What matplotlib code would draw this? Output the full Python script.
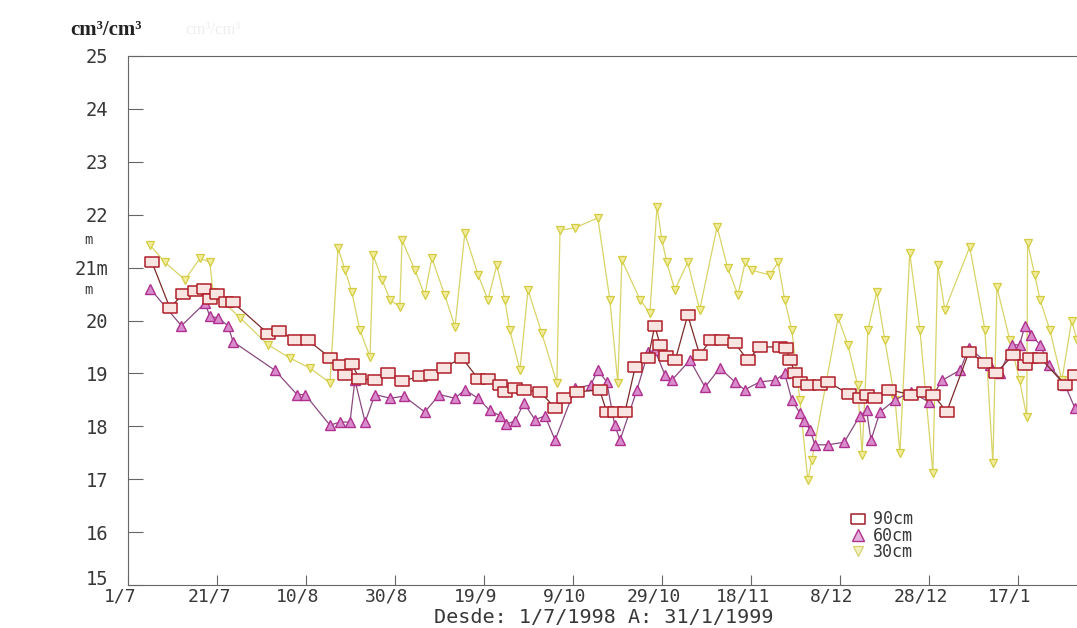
import matplotlib
matplotlib.use("Agg")
import matplotlib.pyplot as plt
from matplotlib.lines import Line2D
from matplotlib.transforms import ScaledTranslation

# days counted from 1/7/1998, soil moisture in cm3/cm3 (x100)
days90 = [5.4, 9.4, 12.4, 15, 17, 18.4, 20, 22, 23.5, 31.5, 34, 37.5, 40.4, 45.4, 47.6, 48.8, 50.3, 52, 55.5,
          58.4, 61.6, 65.6, 68, 71, 75, 78.7, 81, 83.6, 84.7, 87, 89, 92.6, 96, 98, 101, 106, 107.6, 109.4, 111.7,
          114, 116.9, 118.4, 119.6, 121, 123, 125.8, 128.5, 131, 133.5, 136.4, 139.3, 142, 146.5, 148, 148.8, 150,
          151, 152.8, 155.5, 157.3, 162, 164.5, 166, 168, 171, 176, 179, 181, 184, 189, 192.6, 195, 199, 201.6,
          202.7, 205, 210.6, 212.8]
vals90 = [21.1, 20.24, 20.5, 20.55, 20.6, 20.4, 20.5, 20.35, 20.35, 19.75, 19.8, 19.63, 19.63, 19.3, 19.16, 18.97,
          19.18, 18.9, 18.87, 19.0, 18.85, 18.95, 18.97, 19.1, 19.3, 18.9, 18.9, 18.78, 18.65, 18.72, 18.69, 18.65,
          18.35, 18.53, 18.65, 18.69, 18.27, 18.27, 18.27, 19.12, 19.29, 19.9, 19.54, 19.33, 19.25, 20.1, 19.35,
          19.63, 19.63, 19.57, 19.25, 19.5, 19.5, 19.48, 19.25, 19.0, 18.84, 18.78, 18.78, 18.84, 18.61, 18.53, 18.6,
          18.53, 18.69, 18.6, 18.65, 18.6, 18.27, 19.4, 19.2, 19.0, 19.35, 19.16, 19.3, 19.3, 18.78, 18.97]

days60 = [5, 12, 17.3, 18.4, 20.2, 22.5, 23.6, 33, 38, 39.8, 45.4, 47.6, 49.9, 51, 53.3, 55.5, 59, 62, 66.7, 70,
          73.5, 75.7, 78.7, 81.3, 83.6, 85, 87, 89, 91.5, 93.7, 96, 100.5, 104, 105.6, 107.6, 109.4, 110.6, 114.4,
          116.9, 118.4, 120.7, 122.2, 126.3, 129.7, 133, 136.4, 138.6, 142, 145.4, 147.6, 149.2, 151, 152, 153.3,
          154.4, 157.3, 161, 164.5, 166, 167, 169, 172.4, 176, 180, 183, 187, 189, 193.7, 196, 198.7, 200.4, 201.6,
          203, 205, 207, 210.6, 212.8]
vals60 = [20.6, 19.9, 20.33, 20.08, 20.05, 19.9, 19.6, 19.06, 18.6, 18.6, 18.02, 18.08, 18.08, 18.87, 18.08, 18.6,
          18.53, 18.57, 18.27, 18.6, 18.53, 18.69, 18.53, 18.3, 18.2, 18.04, 18.1, 18.44, 18.12, 18.2, 17.74, 18.72,
          18.78, 19.06, 18.84, 18.02, 17.74, 18.69, 19.4, 19.44, 18.97, 18.87, 19.25, 18.74, 19.1, 18.84, 18.69,
          18.84, 18.87, 19.0, 18.5, 18.25, 18.1, 17.93, 17.65, 17.65, 17.7, 18.2, 18.3, 17.74, 18.27, 18.5, 18.65,
          18.46, 18.87, 19.06, 19.48, 19.16, 19.0, 19.54, 19.54, 19.9, 19.73, 19.54, 19.16, 18.78, 18.35]

days30 = [4.9, 8.3, 12.8, 16.2, 18.4, 19.1, 25.2, 31.5, 36.4, 40.9, 45.4, 47.2, 48.8, 50.3, 52.1, 54.4, 55.1, 57.1,
          58.9, 61.1, 61.6, 64.5, 66.7, 68.3, 71.2, 73.5, 75.7, 78.7, 80.9, 82.9, 84.7, 85.8, 88.1, 89.9, 93.0, 96.4,
          97.1, 100.4, 105.6, 108.3, 110.1, 111.0, 115.1, 117.3, 118.9, 120.0, 121.1, 122.9, 125.8, 128.5, 132.4,
          134.8, 137.1, 138.7, 140.2, 144.3, 146.1, 147.6, 149.2, 151.0, 152.8, 153.7, 159.6, 161.8, 164.0, 165.0,
          166.3, 168.3, 170.1, 172.4, 173.5, 175.7, 178.0, 180.9, 182.0, 183.6, 189.2, 192.6, 194.4, 195.3, 198.2,
          200.4, 202.0, 202.2, 203.8, 205.0, 207.2, 209.9, 212.1, 213.3]
vals30 = [21.43, 21.1, 20.77, 21.18, 21.1, 20.54, 20.05, 19.54, 19.29, 19.1, 18.82, 21.37, 20.95, 20.54, 19.82,
          19.31, 21.24, 20.77, 20.39, 20.26, 21.52, 20.95, 20.48, 21.18, 20.48, 19.88, 21.65, 20.86, 20.39, 21.05,
          20.39, 19.82, 19.06, 20.58, 19.76, 18.82, 21.71, 21.75, 21.94, 20.39, 18.82, 21.14, 20.39, 20.14, 22.15,
          21.52, 21.1, 20.58, 21.1, 20.2, 21.77, 20.99, 20.48, 21.1, 20.95, 20.86, 21.1, 20.39, 19.82, 18.5, 16.98,
          17.36, 20.05, 19.54, 18.78, 17.46, 19.82, 20.54, 19.63, 18.5, 17.5, 21.28, 19.82, 17.12, 21.05, 20.2,
          21.39, 19.82, 17.3, 20.63, 19.63, 18.87, 18.18, 21.47, 20.86, 20.39, 19.82, 18.87, 20.0, 19.63]

xtick_days = [0, 20, 40, 60, 80, 100, 120, 140, 160, 180, 200]
xtick_labels = ['1/7', '21/7', '10/8', '30/8', '19/9', '9/10', '29/10', '18/11', '8/12', '28/12', '17/1']
ytick_vals = [15, 16, 17, 18, 19, 20, 21, 22, 23, 24, 25]
ytick_labels = ['15', '16', '17', '18', '19', '20', '21m', '22', '23', '24', '25']
series_labels = ['90cm', '60cm', '30cm']

mono = 'DejaVu Sans Mono'
txt = '#383838'
rect = [(-1.4, -1), (1.4, -1), (1.4, 1), (-1.4, 1), (-1.4, -1)]

fig = plt.figure(figsize=(10.77, 6.28), dpi=100)
ax = fig.add_axes([128/1077, 43/628, 1 - 128/1077, (585-56)/628])

# 30cm behind, then 60cm, then 90cm on top
ax.plot(days30, vals30, color='#d8d468', lw=0.9, marker='v', ms=6, mfc='#f0ec9c', mec='#d4cc40', mew=0.9)
ax.plot(days60, vals60, color='#8a4a80', lw=0.9, marker='^', ms=7, mfc='#d88ccc', mec='#b0308f', mew=1.0)
ax.plot(days90, vals90, color='#7a2a2a', lw=0.9, marker=rect, ms=10, mfc='#f8e4e0', mec='#b01e2a', mew=1.1)

ax.set_xlim(0, 213.3)
ax.set_ylim(15, 25)
ax.set_xticks(xtick_days)
ax.set_xticklabels(xtick_labels, family=mono, fontsize=13, color=txt)
ax.set_yticks(ytick_vals)
ax.set_yticklabels(ytick_labels, family=mono, fontsize=13.5, color=txt)
ax.tick_params(axis='y', direction='in', length=11, width=0.8, color='#666666', pad=14)
ax.tick_params(axis='x', direction='in', length=7, width=0.8, color='#666666', pad=2)
ax.get_yticklabels()[0].set_va('baseline')

shift = ScaledTranslation(-8/100, 0, fig.dpi_scale_trans)
for lbl in ax.get_xticklabels():
    lbl.set_transform(lbl.get_transform() + shift)

for s in ['left', 'bottom', 'top']:
    ax.spines[s].set_color('#666666')
    ax.spines[s].set_linewidth(0.8)
ax.spines['right'].set_visible(False)

# legend, markers only
handles = [
    Line2D([], [], ls='none', marker=rect, ms=10, mfc='white', mec='#a01e2a', mew=1.1),
    Line2D([], [], ls='none', marker='^', ms=8, mfc='#e6b0dc', mec='#b0308f', mew=1.0),
    Line2D([], [], ls='none', marker='v', ms=7, mfc='#f4f0c0', mec='#d8d070', mew=0.9),
]
ax.legend(handles, series_labels, loc='upper left', bbox_to_anchor=(843/1077, 1 - 502/628),
          bbox_transform=fig.transFigure, frameon=False, prop={'family': mono, 'size': 12},
          labelspacing=-0.1, handlelength=0.8, handletextpad=0.5, borderpad=0, labelcolor=txt)

fig.text(70/1077, 1 - 30/628, 'cm³/cm³', family='Liberation Serif', fontsize=15, weight='bold',
         color='#222222', va='center')
fig.text(185/1077, 1 - 30/628, 'cm³/cm³', family='Liberation Serif', fontsize=12, color='#eeeeee', va='center')
fig.text(84/1077, 1 - 240/628, 'm', family=mono, fontsize=10, color=txt, va='center')
fig.text(84/1077, 1 - 290/628, 'm', family=mono, fontsize=10, color=txt, va='center')
fig.text(604/1077, 1 - 627/628, 'Desde: 1/7/1998 A: 31/1/1999', family=mono, fontsize=14.5, color=txt,
         ha='center', va='bottom')

fig.savefig('out.png', dpi=100)
